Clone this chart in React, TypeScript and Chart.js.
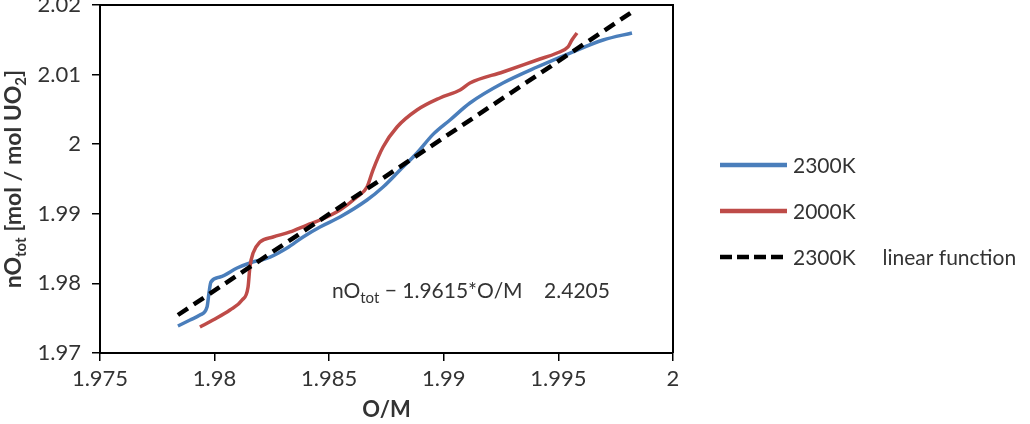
import React, { useEffect, useRef } from 'react';
import { Chart, registerables } from 'chart.js';

Chart.register(...registerables);

// ---- data ----
const blueX = [1.9784, 1.97893, 1.97936, 1.97967, 1.97976, 1.97984, 1.98024, 1.98098, 1.98154, 1.98242, 1.98316, 1.98386, 1.9846, 1.98547, 1.98665, 1.98735, 1.98809, 1.98883, 1.98953, 1.99027, 1.99114, 1.99258, 1.99407, 1.99551, 1.99695, 1.99821];
const blueY = [1.97388, 1.97474, 1.97546, 1.97661, 1.97876, 1.9802, 1.98092, 1.98221, 1.98293, 1.98379, 1.98509, 1.98667, 1.9881, 1.98954, 1.99198, 1.99385, 1.99629, 1.99874, 2.00141, 2.00348, 2.00592, 2.00879, 2.01109, 2.0131, 2.01497, 2.01598];

const redX = [1.97936, 1.97993, 1.98067, 1.9812, 1.98146, 1.98154, 1.98168, 1.98198, 1.98255, 1.98329, 1.98403, 1.9846, 1.98547, 1.98621, 1.98665, 1.98691, 1.98735, 1.98796, 1.98883, 1.98983, 1.99071, 1.99114, 1.99258, 1.99407, 1.99494, 1.99542, 1.99559, 1.99581];
const redY = [1.97374, 1.97474, 1.97618, 1.97761, 1.97948, 1.98236, 1.98437, 1.98595, 1.98667, 1.98739, 1.98839, 1.98911, 1.99055, 1.99241, 1.99385, 1.99629, 1.9996, 2.00247, 2.00491, 2.00664, 2.00779, 2.00879, 2.01037, 2.0121, 2.0131, 2.01397, 2.01497, 2.01598];

const linX = [1.9784, 1.99821];
const linY = [1.97546, 2.01899];

const seriesLabels = ['2300K', '2000K', '2300K     linear function'];

const xTickValues = [1.975, 1.98, 1.985, 1.99, 1.995, 2];
const xTickLabels = ['1.975', '1.98', '1.985', '1.99', '1.995', '2'];
const yTickValues = [1.97, 1.98, 1.99, 2, 2.01, 2.02];
const yTickLabels = ['1.97', '1.98', '1.99', '2', '2.01', '2.02'];

const xTitle = 'O/M';
const yTitleParts = [
  { text: 'nO', sub: false },
  { text: 'tot', sub: true },
  { text: ' [mol / mol UO', sub: false },
  { text: '2', sub: true },
  { text: ']', sub: false },
];
const annotationParts = [
  { text: 'nO', sub: false },
  { text: 'tot', sub: true },
  { text: ' \u2212 1.9615*O/M    2.4205', sub: false },
];
const annotationAt = { x: 1.98512, y: 1.9779 };

// ---- styles ----
const FONT = 'Lato, "Open Sans", sans-serif';
const TEXT = '#333333';
const BLUE = '#4a7ebb';
const RED = '#be4b48';
const BLACK = '#000000';

function drawRich(ctx: CanvasRenderingContext2D, parts: { text: string; sub: boolean }[], x: number, y: number, weight: string, size: number, subSize: number, subOffset: number, align: 'left' | 'center') {
  const mainFont = `${weight} ${size}px ${FONT}`;
  const subFont = `${weight} ${subSize}px ${FONT}`;
  let total = 0;
  for (const p of parts) {
    ctx.font = p.sub ? subFont : mainFont;
    total += ctx.measureText(p.text).width;
  }
  let cx = align === 'center' ? x - total / 2 : x;
  ctx.textAlign = 'left';
  ctx.textBaseline = 'alphabetic';
  for (const p of parts) {
    ctx.font = p.sub ? subFont : mainFont;
    ctx.fillText(p.text, cx, p.sub ? y + subOffset : y);
    cx += ctx.measureText(p.text).width;
  }
}

export default function App() {
  const ref = useRef<HTMLCanvasElement>(null);

  useEffect(() => {
    document.body.style.margin = '0';
    const canvas = ref.current as HTMLCanvasElement;

    const overlay = {
      id: 'overlay',
      afterDraw(chart: any) {
        const ctx: CanvasRenderingContext2D = chart.ctx;
        const a = chart.chartArea;
        ctx.save();
        // box top & right
        ctx.strokeStyle = BLACK;
        ctx.lineWidth = 2;
        ctx.beginPath();
        ctx.moveTo(a.left, a.top);
        ctx.lineTo(a.right, a.top);
        ctx.lineTo(a.right, a.bottom);
        ctx.stroke();

        ctx.fillStyle = TEXT;
        // x title
        ctx.font = `bold 22px ${FONT}`;
        ctx.textAlign = 'center';
        ctx.textBaseline = 'middle';
        ctx.fillText(xTitle, (a.left + a.right) / 2, 410);

        // y title
        ctx.save();
        ctx.translate(13, (a.top + a.bottom) / 2);
        ctx.rotate(-Math.PI / 2);
        drawRich(ctx, yTitleParts, 0, 8, 'bold', 23, 15, 5, 'center');
        ctx.restore();

        // annotation
        const ax = chart.scales.x.getPixelForValue(annotationAt.x);
        const ay = chart.scales.y.getPixelForValue(annotationAt.y);
        drawRich(ctx, annotationParts, ax, ay, 'normal', 21, 15, 5, 'left');

        // legend
        const rows = [165, 211, 257];
        chart.data.datasets.forEach((ds: any, i: number) => {
          const y = rows[i];
          ctx.save();
          ctx.strokeStyle = ds.borderColor;
          ctx.lineWidth = 4.5;
          ctx.setLineDash(ds.borderDash ? [12, 5] : []);
          ctx.beginPath();
          ctx.moveTo(720, y);
          ctx.lineTo(787, y);
          ctx.stroke();
          ctx.restore();
          ctx.fillStyle = TEXT;
          ctx.font = `normal 21px ${FONT}`;
          ctx.textAlign = 'left';
          ctx.textBaseline = 'middle';
          ctx.fillText(ds.label, 793, y + 1);
        });
        ctx.restore();
      },
    };

    const common = {
      showLine: true,
      pointRadius: 0,
      pointHoverRadius: 0,
      fill: false,
      cubicInterpolationMode: 'monotone',
    };

    const chart = new Chart(canvas, {
      type: 'scatter',
      data: {
        datasets: [
          { ...common, label: seriesLabels[0], data: blueX.map((x, i) => ({ x, y: blueY[i] })), borderColor: BLUE, borderWidth: 3.5, order: 2 },
          { ...common, label: seriesLabels[1], data: redX.map((x, i) => ({ x, y: redY[i] })), borderColor: RED, borderWidth: 3.5, order: 1 },
          { ...common, label: seriesLabels[2], data: linX.map((x, i) => ({ x, y: linY[i] })), borderColor: BLACK, borderWidth: 4.5, borderDash: [12, 7], order: 0 },
        ],
      } as any,
      options: {
        responsive: false,
        animation: false,
        devicePixelRatio: 1,
        layout: { padding: { left: 0, right: 357, top: 5, bottom: 0 } },
        plugins: { legend: { display: false }, tooltip: { enabled: false } },
        scales: {
          x: {
            type: 'linear',
            min: 1.975,
            max: 2,
            afterBuildTicks: (s: any) => { s.ticks = xTickValues.map((v) => ({ value: v })); },
            afterFit: (s: any) => { s.height = 71; },
            ticks: {
              callback: (_v: any, i: number) => xTickLabels[i],
              font: { family: FONT, size: 22 },
              color: TEXT,
              padding: 5,
              maxRotation: 0,
              autoSkip: false,
            },
            grid: { drawOnChartArea: false, drawTicks: true, tickLength: 8, color: BLACK, lineWidth: 1.5 },
            border: { display: true, color: BLACK, width: 2 },
          },
          y: {
            type: 'linear',
            min: 1.97,
            max: 2.02,
            afterBuildTicks: (s: any) => { s.ticks = yTickValues.map((v) => ({ value: v })); },
            afterFit: (s: any) => { s.width = 100; s.paddingTop = 0; s.paddingBottom = 0; },
            ticks: {
              callback: (_v: any, i: number) => yTickLabels[i],
              font: { family: FONT, size: 22 },
              color: TEXT,
              padding: 11,
              autoSkip: false,
            },
            grid: { drawOnChartArea: false, drawTicks: true, tickLength: 8, color: BLACK, lineWidth: 1.5 },
            border: { display: true, color: BLACK, width: 2 },
          },
        },
      } as any,
      plugins: [overlay],
    });

    return () => chart.destroy();
  }, []);

  return (
    <div style={{ position: 'absolute', left: 0, top: 0, width: 1030, height: 424, background: '#fff' }}>
      <canvas ref={ref} width={1030} height={424} style={{ display: 'block' }} />
    </div>
  );
}
